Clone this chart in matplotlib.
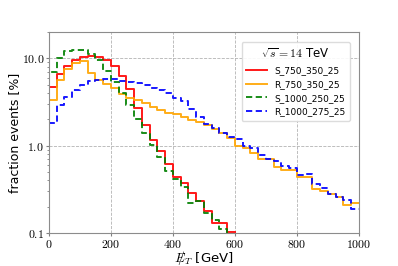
import numpy as np
import matplotlib
matplotlib.use("Agg")
import matplotlib.pyplot as plt

plt.rcParams['mathtext.fontset'] = 'cm'

# bin edges in GeV (25 GeV bins)
edges = np.arange(0, 1001, 25)

# fraction of events per bin [%]
s_750 = [4.7, 6.6, 8.2, 9.6, 10.2, 10.6, 10.3, 9.6, 8.2, 6.2, 4.5, 2.7, 1.74, 1.15,
         0.86, 0.62, 0.44, 0.37, 0.29, 0.23, 0.18, 0.13, 0.13, 0.103]
r_750 = [3.3, 5.6, 7.6, 8.8, 9.4, 6.8, 5.7, 5.1, 4.6, 3.9, 3.55, 3.3, 3.05, 2.8,
         2.56, 2.35, 2.3, 2.15, 1.95, 1.85, 1.7, 1.55, 1.4, 1.22, 1.0, 0.93, 0.83,
         0.70, 0.70, 0.57, 0.52, 0.52, 0.44, 0.44, 0.32, 0.30, 0.28, 0.26, 0.21, 0.22]
s_1000 = [6.9, 10.0, 12.0, 12.5, 12.3, 11.3, 9.5, 7.2, 5.3, 4.0, 2.9, 2.0, 1.4, 1.03,
          0.74, 0.51, 0.42, 0.34, 0.22, 0.23, 0.17, 0.14, 0.11, 0.08]
r_1000 = [1.8, 2.9, 3.6, 4.3, 4.95, 5.5, 5.6, 5.8, 5.75, 5.55, 5.4, 5.2, 4.95, 4.6,
          4.3, 4.0, 3.5, 3.2, 2.6, 2.1, 1.75, 1.6, 1.4, 1.25, 1.2, 1.0, 0.93, 0.78,
          0.70, 0.66, 0.58, 0.55, 0.46, 0.47, 0.36, 0.33, 0.28, 0.26, 0.24, 0.19]

# value where each line enters at x=0
starts = {'S_750_350_25': 3.4, 'R_750_350_25': 1.3,
          'S_1000_250_25': 3.4, 'R_1000_275_25': 0.5}

series = [
    ('S_750_350_25', s_750, 'red', '-'),
    ('R_750_350_25', r_750, 'orange', '-'),
    ('S_1000_250_25', s_1000, 'green', (0, (3.2, 1.8))),
    ('R_1000_275_25', r_1000, 'blue', (0, (3.2, 1.8))),
]

fig = plt.figure(figsize=(3.98, 2.66), dpi=100)
ax = fig.add_axes([0.123, 0.124, 0.779, 0.756])

for name, vals, col, ls in series:
    n = len(vals)
    x = np.concatenate([[0], edges[:n + 1]])
    y = np.concatenate([[starts[name]], vals, [vals[-1]]])
    ax.plot(x, y, drawstyle='steps-post', color=col, ls=ls, lw=1.4,
            alpha=0.9, label=name)

ax.set_yscale('log')
ax.set_xlim(0, 1000)
ax.set_ylim(0.1, 20)
ax.set_xticks([0, 200, 400, 600, 800, 1000])
ax.set_xticklabels(['$%d$' % v for v in [0, 200, 400, 600, 800, 1000]])
ax.set_yticks([0.1, 1.0, 10.0])
ax.set_yticklabels(['$0.1$', '$1.0$', '$10.0$'])
ax.tick_params(labelsize=8.5, length=2, pad=1.5, color='0.5')
ax.tick_params(which='minor', length=1.5, color='0.5')
ax.grid(True, which='major', color='0.7', ls='--', lw=0.6)
for sp in ax.spines.values():
    sp.set_color('0.55')

ax.set_ylabel('fraction events [%]', fontsize=9, labelpad=0.5)
ax.set_xlabel(r'$E\!\!\!/_T$ [GeV]', fontsize=9.5, labelpad=-1)

leg = ax.legend(title=r'$\sqrt{s}=14$ TeV', fontsize=6.5, title_fontsize=8.5,
                loc='upper right', handlelength=2.3, handletextpad=0.8,
                labelspacing=0.55, borderpad=0.5, framealpha=0.9,
                bbox_to_anchor=(0.985, 0.97))
leg.get_frame().set_edgecolor('0.85')

fig.savefig('out.png', dpi=100)
